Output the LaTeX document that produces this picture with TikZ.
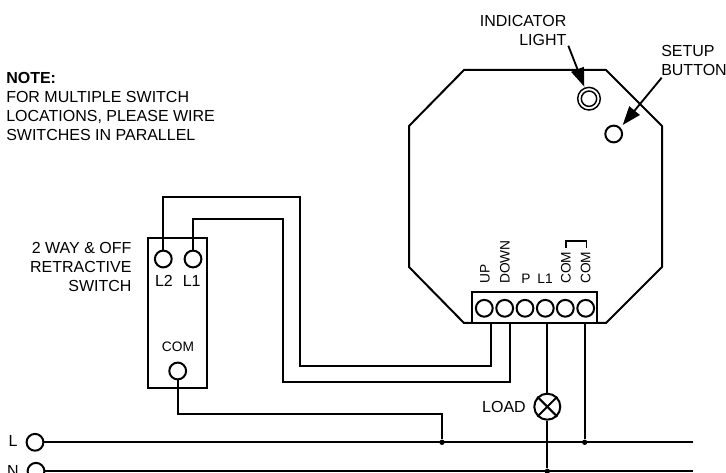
\documentclass[tikz,border=0pt]{standalone}
\usepackage{fontspec}
\setmainfont{Liberation Sans}
\usetikzlibrary{arrows.meta}
\tikzset{
  wire/.style={line width=1.5pt},
  term/.style={circle,draw,line width=1.5pt,fill=white,minimum size=12.6pt,inner sep=0pt},
  dot/.style={circle,fill=black,minimum size=4pt,inner sep=0pt},
  lab/.style={inner sep=0pt,font=\fontsize{12}{14.25}\selectfont},
  small/.style={inner sep=0pt,font=\fontsize{10.3}{12}\selectfont},
  lead/.style={line width=1.4pt,-{Triangle[length=14pt,width=10pt]}}
}
\begin{document}
\begin{tikzpicture}[x=0.75pt,y=-0.75pt]
\useasboundingbox (0,0) rectangle (726,473);
% module
\draw[wire] (464,70) -- (606,70) -- (662,126) -- (662,267) -- (606,323) -- (464,323) -- (409,267) -- (409,126) -- cycle;
\node (box) at (534.3,307.2) [draw,line width=1.5pt,fill=white,minimum width=93.5pt,minimum height=23.2pt,inner sep=0pt] {};
\node (ind) at (589,98.7) [circle,draw,line width=1.1pt,minimum size=17pt,inner sep=0pt] {};
\node (ind2) at (589,98.7) [circle,draw,line width=1.1pt,minimum size=11.5pt,inner sep=0pt] {};
\node (btn) at (613.7,134) [term] {};
\node (t0) at (484.3,308.3) [term] {};
\node (t1) at (504.7,308.3) [term] {};
\node (t2) at (525,308.3) [term] {};
\node (t3) at (545.3,308.3) [term] {};
\node (t4) at (565.3,308.3) [term] {};
\node (t5) at (585.7,308.3) [term] {};
\node at (485,284) [small,rotate=90,anchor=west] {UP};
\node at (505,284) [small,rotate=90,anchor=west] {DOWN};
\node at (526,279) [small] {P};
\node at (545,279) [small] {L1};
\node at (566,284) [small,rotate=90,anchor=west] {COM};
\node at (585.7,284) [small,rotate=90,anchor=west] {COM};
\draw[line width=1pt] (566,248) -- (566,241) -- (586.7,241) -- (586.7,248);
% labels
\node (ilab) at (566.7,30) [lab,align=right,anchor=east] {INDICATOR\\LIGHT};
\node (blab) at (661,60.5) [lab,align=left,anchor=west] {SETUP\\BUTTON};
\coordinate (a0) at (568.3,45.7);
\coordinate (a1) at (584.3,86.7);
\coordinate (a2) at (661.7,77.7);
\coordinate (a3) at (622.7,125);
\draw[lead] (a0) -- (a1);
\draw[lead] (a2) -- (a3);
\node (note) at (6,106.5) [lab,align=left,anchor=west] {\textbf{NOTE:}\\FOR MULTIPLE SWITCH\\LOCATIONS, PLEASE WIRE\\SWITCHES IN PARALLEL};
\node (swlab) at (131.7,267) [lab,align=right,anchor=east] {2 WAY \& OFF\\RETRACTIVE\\SWITCH};
% switch
\node (sw) at (177.7,313) [draw,line width=1.5pt,minimum width=44.5pt,minimum height=113pt,inner sep=0pt] {};
\node (l2) at (163.3,259) [term] {};
\node (l1) at (193,259) [term] {};
\node (com) at (177.7,371) [term] {};
\node at (164,281) [lab] {L2};
\node at (191.7,281) [lab] {L1};
\node at (178,347) [small] {COM};
% mains
\node (lt) at (35,442.3) [term] {};
\node (nt) at (36,471.3) [term] {};
\node at (13,441) [lab] {L};
\node at (13,471) [lab] {N};
\coordinate (lend) at (692.7,442.3);
\coordinate (nend) at (692.7,471.3);
\draw[wire] (lt) -- (lend);
\draw[wire] (nt) -- (nend);
\node (d0) at (442,442.3) [dot] {};
\node (d1) at (584.7,442.3) [dot] {};
\node (d2) at (547.3,471.3) [dot] {};
% load
\node (load) at (547.3,406.7) [circle,draw,line width=1.5pt,minimum size=19.5pt,inner sep=0pt] {};
\draw[wire] (load.45) -- (load.225);
\draw[wire] (load.135) -- (load.315);
\node at (504,406.7) [lab] {LOAD};
% wires
\coordinate (up) at (491,323);
\coordinate (down) at (509.7,323);
\coordinate (ll) at (547.3,323);
\coordinate (cc) at (584.7,323);
\draw[wire] (up) -- (491,365.7) -- (300,365.7) -- (300,197.3) -- (163.3,197.3) -- (l2);
\draw[wire] (down) -- (509.7,382) -- (283,382) -- (283,219.3) -- (193,219.3) -- (l1);
\draw[wire] (com) -- (177.7,414) -- (442,414) -- (d0);
\draw[wire] (ll) -- (load);
\draw[wire] (load) -- (d2);
\draw[wire] (cc) -- (d1);
\end{tikzpicture}
\end{document}
